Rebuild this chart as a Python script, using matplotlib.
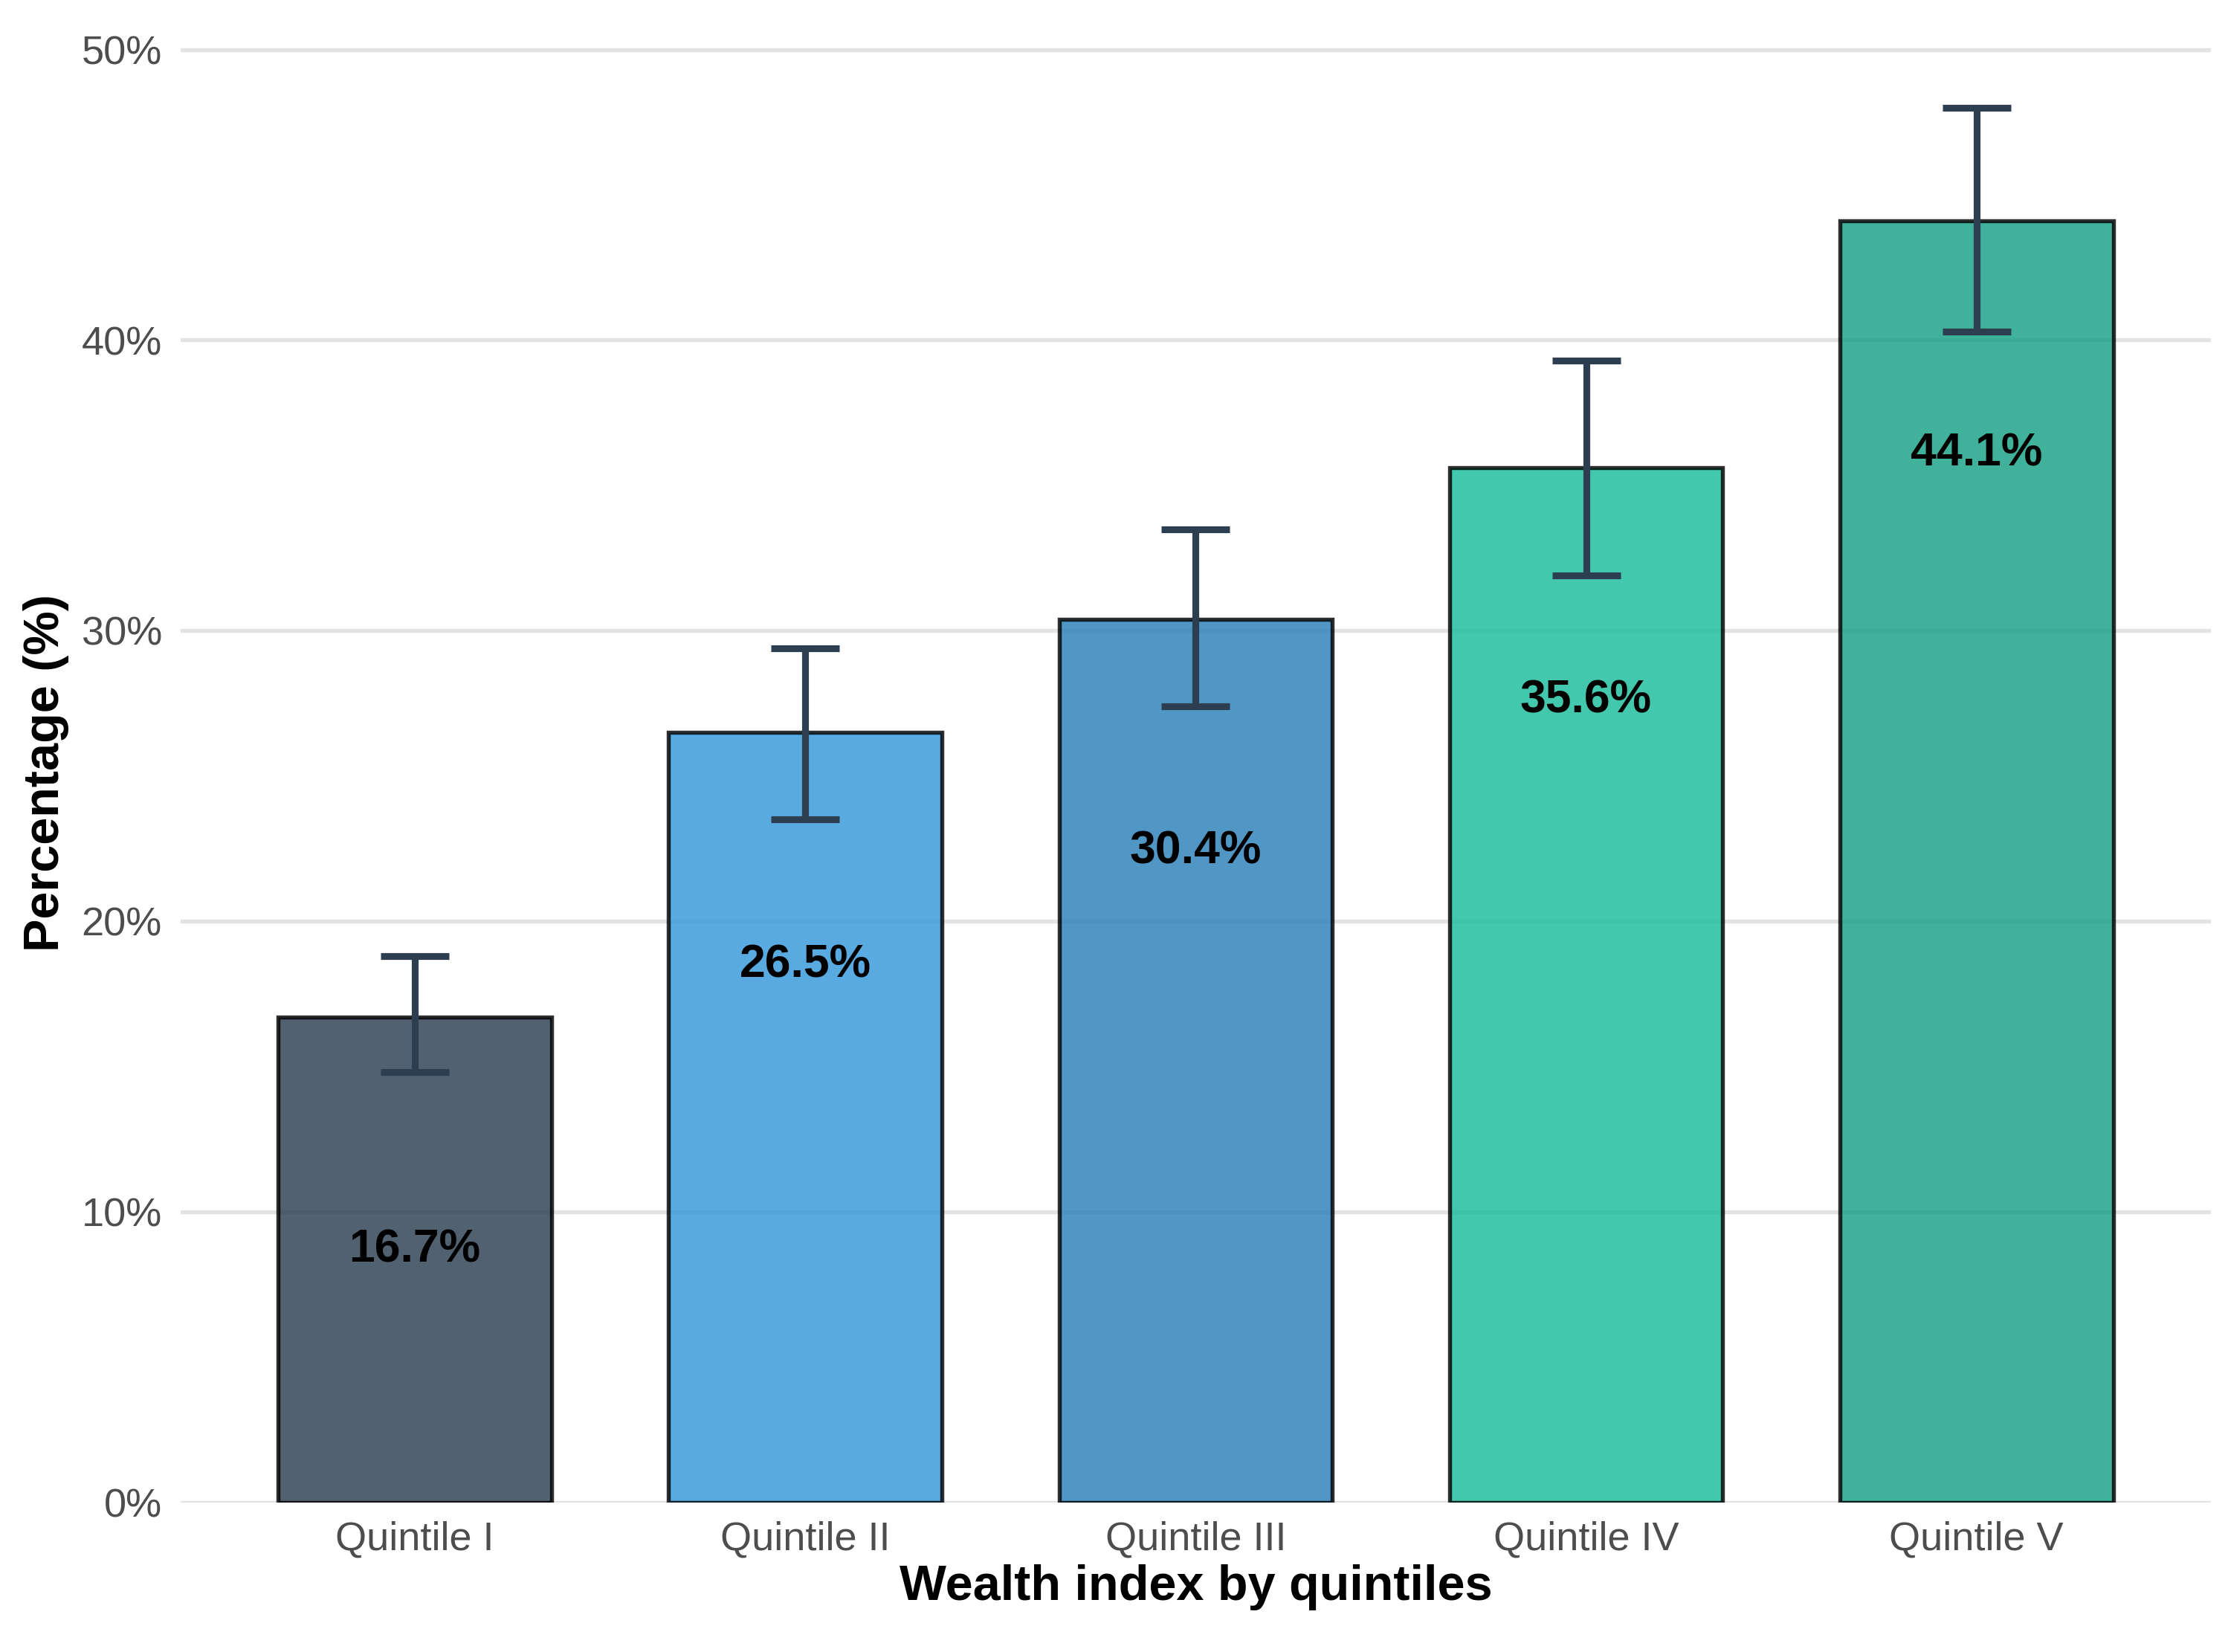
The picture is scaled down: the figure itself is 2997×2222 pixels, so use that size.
import matplotlib
matplotlib.use("Agg")
import matplotlib.pyplot as plt
from matplotlib.ticker import FuncFormatter

plt.rcParams["font.family"] = "Liberation Sans"

categories = ["Quintile I", "Quintile II", "Quintile III", "Quintile IV", "Quintile V"]
values = [16.7, 26.5, 30.4, 35.6, 44.1]
err_low = [14.8, 23.5, 27.4, 31.9, 40.3]
err_high = [18.8, 29.4, 33.5, 39.3, 48.0]
colors = ["#2c3e50", "#3498db", "#2980b9", "#1abc9c", "#16a085"]

fig = plt.figure(figsize=(9.993, 7.407), dpi=300)
ax = fig.add_axes([0.081, 0.0905, 0.911, 0.883])

x = list(range(len(categories)))
ax.bar(x, values, width=0.7, color=colors, alpha=0.82, edgecolor="black",
       linewidth=1.3, zorder=2)
yerr = [[v - lo for v, lo in zip(values, err_low)],
        [hi - v for v, hi in zip(values, err_high)]]
ax.errorbar(x, values, yerr=yerr, fmt="none", ecolor="#2c3e50",
            elinewidth=2.2, capsize=11, capthick=2.2, zorder=3)
for xi, v in zip(x, values):
    ax.text(xi, v - 8, f"{v:.1f}%", ha="center", va="center",
            fontsize=15, fontweight="bold", color="black", zorder=4)

ax.set_xlim(-0.6, 4.6)
ax.set_ylim(0, 50.2)
ax.set_yticks([0, 10, 20, 30, 40, 50])
ax.yaxis.set_major_formatter(FuncFormatter(lambda v, p: f"{v:.0f}%"))
ax.set_xticks(x)
ax.set_xticklabels(categories)
ax.grid(axis="y", color="#e3e3e3", linewidth=1.3, zorder=0)
ax.set_axisbelow(True)
for s in ax.spines.values():
    s.set_visible(False)
ax.tick_params(length=0, labelsize=13, colors="#4d4d4d", pad=6)
ax.set_xlabel("Wealth index by quintiles", fontsize=16, fontweight="bold", labelpad=2)
ax.set_ylabel("Percentage (%)", fontsize=16, fontweight="bold", labelpad=4)

fig.savefig("out.png", dpi=300, facecolor="white")
